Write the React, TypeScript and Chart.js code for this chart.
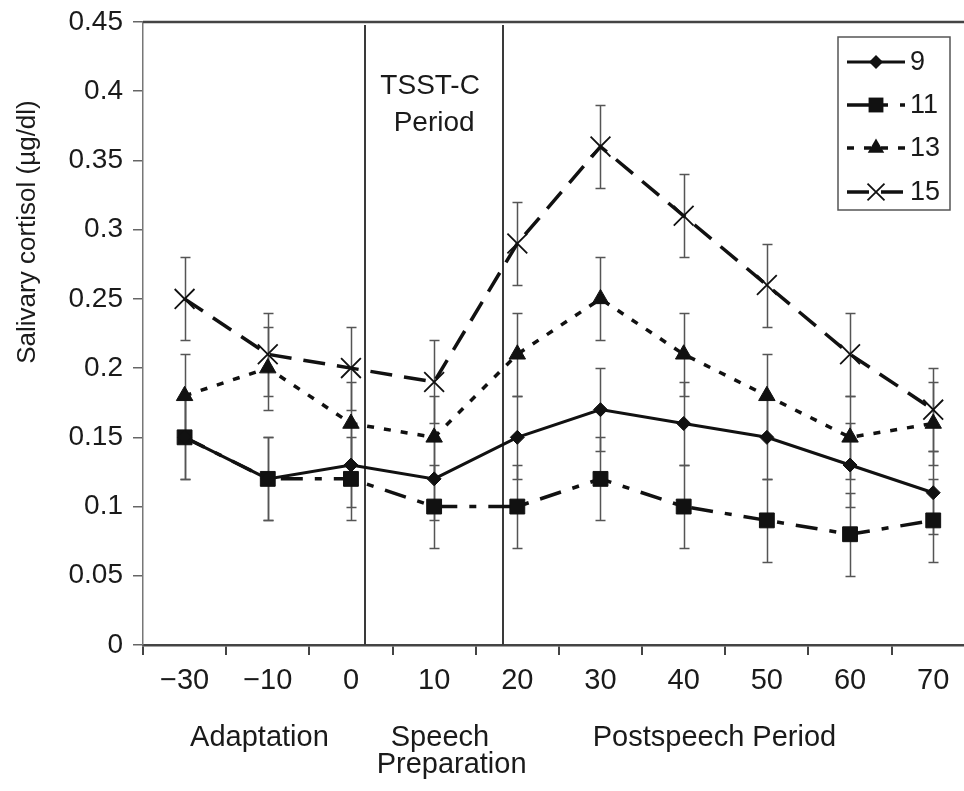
import { useEffect, useRef } from 'react';
import { Chart, registerables } from 'chart.js';

Chart.register(...registerables);

// ---------- data ----------
const categories = ['\u221230', '\u221210', '0', '10', '20', '30', '40', '50', '60', '70'];
const seriesNames = ['9', '11', '13', '15'];
const age9 = [0.15, 0.12, 0.13, 0.12, 0.15, 0.17, 0.16, 0.15, 0.13, 0.11];
const age11 = [0.15, 0.12, 0.12, 0.1, 0.1, 0.12, 0.1, 0.09, 0.08, 0.09];
const age13 = [0.18, 0.2, 0.16, 0.15, 0.21, 0.25, 0.21, 0.18, 0.15, 0.16];
const age15 = [0.25, 0.21, 0.2, 0.19, 0.29, 0.36, 0.31, 0.26, 0.21, 0.17];
const err9 = [0.03, 0.03, 0.03, 0.03, 0.03, 0.03, 0.03, 0.03, 0.03, 0.03];
const err11 = [0.03, 0.03, 0.03, 0.03, 0.03, 0.03, 0.03, 0.03, 0.03, 0.03];
const err13 = [0.03, 0.03, 0.03, 0.03, 0.03, 0.03, 0.03, 0.03, 0.03, 0.03];
const err15 = [0.03, 0.03, 0.03, 0.03, 0.03, 0.03, 0.03, 0.03, 0.03, 0.03];
const yTickValues = [0, 0.05, 0.1, 0.15, 0.2, 0.25, 0.3, 0.35, 0.4, 0.45];
const yTickLabels = ['0', '0.05', '0.1', '0.15', '0.2', '0.25', '0.3', '0.35', '0.4', '0.45'];
const yTitle = 'Salivary cortisol (\u00b5g/dl)';
const periodTitle = ['TSST-C', 'Period'];
const phaseNames = ['Adaptation', 'Speech', 'Preparation', 'Postspeech Period'];

// ---------- layout / style constants ----------
const FONT = "'Liberation Sans', Arial, Helvetica, sans-serif";
const INK = '#1a1a1a';
const X_MIN = -0.5;
const X_MAX = 9.37;
const periodBounds = [2.17, 3.83];
const phasePos = [
  { at: 0.9, dy: 93 },
  { at: 3.07, dy: 93 },
  { at: 3.21, dy: 120 },
  { at: 6.37, dy: 93 },
];

const styles = [
  { point: 'rectRot', radius: 7, dash: [] as number[], width: 3, pbw: 1 },
  { point: 'rect', radius: 10.5, dash: [22, 12, 7, 12], width: 3.5, pbw: 1 },
  { point: 'triangle', radius: 9.5, dash: [7, 10], width: 3.5, pbw: 1 },
  { point: 'crossRot', radius: 14, dash: [22, 12], width: 3.5, pbw: 1.8 },
];
const seriesValues = [age9, age11, age13, age15];
const seriesErrors = [err9, err11, err13, err15];

function drawMarker(ctx: CanvasRenderingContext2D, style: string, cx: number, cy: number, r: number) {
  ctx.beginPath();
  if (style === 'rectRot') {
    ctx.moveTo(cx - r, cy);
    ctx.lineTo(cx, cy - r);
    ctx.lineTo(cx + r, cy);
    ctx.lineTo(cx, cy + r);
    ctx.closePath();
    ctx.fill();
  } else if (style === 'rect') {
    const s = r * Math.SQRT1_2;
    ctx.rect(cx - s, cy - s, 2 * s, 2 * s);
    ctx.fill();
  } else if (style === 'triangle') {
    ctx.moveTo(cx, cy - r);
    ctx.lineTo(cx + r * 0.866, cy + r * 0.5);
    ctx.lineTo(cx - r * 0.866, cy + r * 0.5);
    ctx.closePath();
    ctx.fill();
  } else {
    const s = r * Math.SQRT1_2;
    ctx.lineWidth = 1.8;
    ctx.moveTo(cx - s, cy - s);
    ctx.lineTo(cx + s, cy + s);
    ctx.moveTo(cx + s, cy - s);
    ctx.lineTo(cx - s, cy + s);
    ctx.stroke();
  }
}

const decorPlugin = {
  id: 'decor',
  beforeDatasetsDraw(chart: any) {
    const { ctx, chartArea, scales } = chart;
    const x = scales.x;
    const y = scales.y;
    ctx.save();
    // top frame line
    ctx.strokeStyle = '#444';
    ctx.lineWidth = 2.5;
    ctx.beginPath();
    ctx.moveTo(chartArea.left, chartArea.top);
    ctx.lineTo(chart.width, chartArea.top);
    ctx.stroke();
    // period boundaries
    ctx.lineWidth = 2;
    ctx.strokeStyle = '#3a3a3a';
    periodBounds.forEach((b) => {
      const px = Math.round(x.getPixelForValue(b));
      ctx.beginPath();
      ctx.moveTo(px, chartArea.top + 3);
      ctx.lineTo(px, chartArea.bottom);
      ctx.stroke();
    });
    // error bars
    ctx.strokeStyle = '#555';
    ctx.lineWidth = 1.5;
    seriesValues.forEach((vals, si) => {
      vals.forEach((v, i) => {
        const e = seriesErrors[si][i];
        const px = Math.round(x.getPixelForValue(i)) + 0.5;
        const top = Math.round(y.getPixelForValue(v + e)) + 0.5;
        const bot = Math.round(y.getPixelForValue(v - e)) + 0.5;
        ctx.beginPath();
        ctx.moveTo(px, top);
        ctx.lineTo(px, bot);
        ctx.moveTo(px - 5, top);
        ctx.lineTo(px + 5, top);
        ctx.moveTo(px - 5, bot);
        ctx.lineTo(px + 5, bot);
        ctx.stroke();
      });
    });
    ctx.restore();
  },
  afterDraw(chart: any) {
    const { ctx, chartArea, scales } = chart;
    const x = scales.x;
    ctx.save();
    ctx.fillStyle = INK;
    ctx.textAlign = 'center';
    ctx.textBaseline = 'middle';
    // period title
    ctx.font = `28px ${FONT}`;
    const mid = (x.getPixelForValue(periodBounds[0]) + x.getPixelForValue(periodBounds[1])) / 2;
    ctx.fillText(periodTitle[0], mid - 4, chartArea.top + 64);
    ctx.fillText(periodTitle[1], mid, chartArea.top + 101);
    // phase labels
    ctx.font = `29px ${FONT}`;
    phaseNames.forEach((t, i) => {
      ctx.fillText(t, x.getPixelForValue(phasePos[i].at), chartArea.bottom + phasePos[i].dy);
    });
    // y title
    ctx.font = `26px ${FONT}`;
    ctx.translate(28, chartArea.top + 210);
    ctx.rotate(-Math.PI / 2);
    ctx.fillText(yTitle, 0, 0);
    ctx.restore();

    // legend
    ctx.save();
    const lx = 838;
    const ly = 37;
    const lw = 112;
    const lh = 173;
    ctx.fillStyle = '#fff';
    ctx.fillRect(lx, ly, lw, lh);
    ctx.strokeStyle = '#555';
    ctx.lineWidth = 1.5;
    ctx.strokeRect(lx, ly, lw, lh);
    const rowsY = [62, 105, 148, 192];
    seriesNames.forEach((name, i) => {
      const st = styles[i];
      const cy = rowsY[i];
      ctx.strokeStyle = '#111';
      ctx.fillStyle = '#111';
      ctx.lineWidth = st.width;
      ctx.setLineDash(st.dash);
      ctx.beginPath();
      ctx.moveTo(847, cy);
      ctx.lineTo(905, cy);
      ctx.stroke();
      ctx.setLineDash([]);
      drawMarker(ctx, st.point, 876, cy, i === 3 ? 12 : st.radius);
      ctx.fillStyle = INK;
      ctx.font = `27px ${FONT}`;
      ctx.textAlign = 'left';
      ctx.textBaseline = 'middle';
      ctx.fillText(name, 910, cy + 1);
    });
    ctx.restore();
  },
};

export default function App() {
  const ref = useRef<HTMLCanvasElement | null>(null);

  useEffect(() => {
    if (!ref.current) return;
    const datasets = seriesNames.map((name, i) => ({
      label: name,
      data: seriesValues[i].map((v, k) => ({ x: k, y: v })),
      borderColor: '#111',
      backgroundColor: '#111',
      borderWidth: styles[i].width,
      borderDash: styles[i].dash,
      pointStyle: styles[i].point,
      pointRadius: styles[i].radius,
      pointBorderWidth: styles[i].pbw,
      pointBackgroundColor: '#111',
      pointBorderColor: '#111',
      tension: 0,
      fill: false,
      clip: false as any,
    }));

    const chart = new Chart(ref.current, {
      type: 'line',
      data: { datasets },
      plugins: [decorPlugin],
      options: {
        animation: false,
        responsive: false,
        layout: { autoPadding: false, padding: { top: 22, right: 0, bottom: 0, left: 0 } },
        plugins: {
          legend: { display: false },
          tooltip: { enabled: false },
          title: { display: false },
        },
        scales: {
          x: {
            type: 'linear',
            min: X_MIN,
            max: X_MAX,
            afterBuildTicks: (scale: any) => {
              const t: { value: number }[] = [];
              for (let k = -1; k <= 18; k++) t.push({ value: k / 2 });
              scale.ticks = t;
            },
            afterFit: (scale: any) => {
              scale.height = 146;
              scale.paddingLeft = 0;
              scale.paddingRight = 0;
            },
            grid: {
              drawOnChartArea: false,
              drawTicks: true,
              tickLength: 10,
              lineWidth: 2,
              tickColor: (c: any) => (Number.isInteger(c.tick?.value) ? 'rgba(0,0,0,0)' : '#444'),
            },
            border: { color: '#444', width: 2.5 },
            ticks: {
              autoSkip: false,
              maxRotation: 0,
              padding: 9,
              color: INK,
              font: { family: FONT, size: 29 },
              callback: (v: any) => (Number.isInteger(v) ? categories[v] ?? '' : ''),
            },
          },
          y: {
            type: 'linear',
            min: 0,
            max: 0.45,
            afterBuildTicks: (scale: any) => {
              scale.ticks = yTickValues.map((v) => ({ value: v }));
            },
            afterFit: (scale: any) => {
              scale.width = 143;
              scale.paddingTop = 0;
              scale.paddingBottom = 0;
            },
            grid: {
              drawOnChartArea: false,
              drawTicks: true,
              tickLength: 10,
              lineWidth: 1.5,
              tickColor: '#666',
            },
            border: { color: '#777', width: 1.5 },
            ticks: {
              padding: 10,
              color: INK,
              font: { family: FONT, size: 28 },
              callback: (_v: any, idx: number) => yTickLabels[idx],
            },
          },
        },
      },
    });
    return () => chart.destroy();
  }, []);

  return (
    <div style={{ position: 'fixed', left: 0, top: 0, width: 964, height: 791, background: '#fff' }}>
      <canvas ref={ref} width={964} height={791} style={{ width: 964, height: 791, display: 'block' }} />
    </div>
  );
}
